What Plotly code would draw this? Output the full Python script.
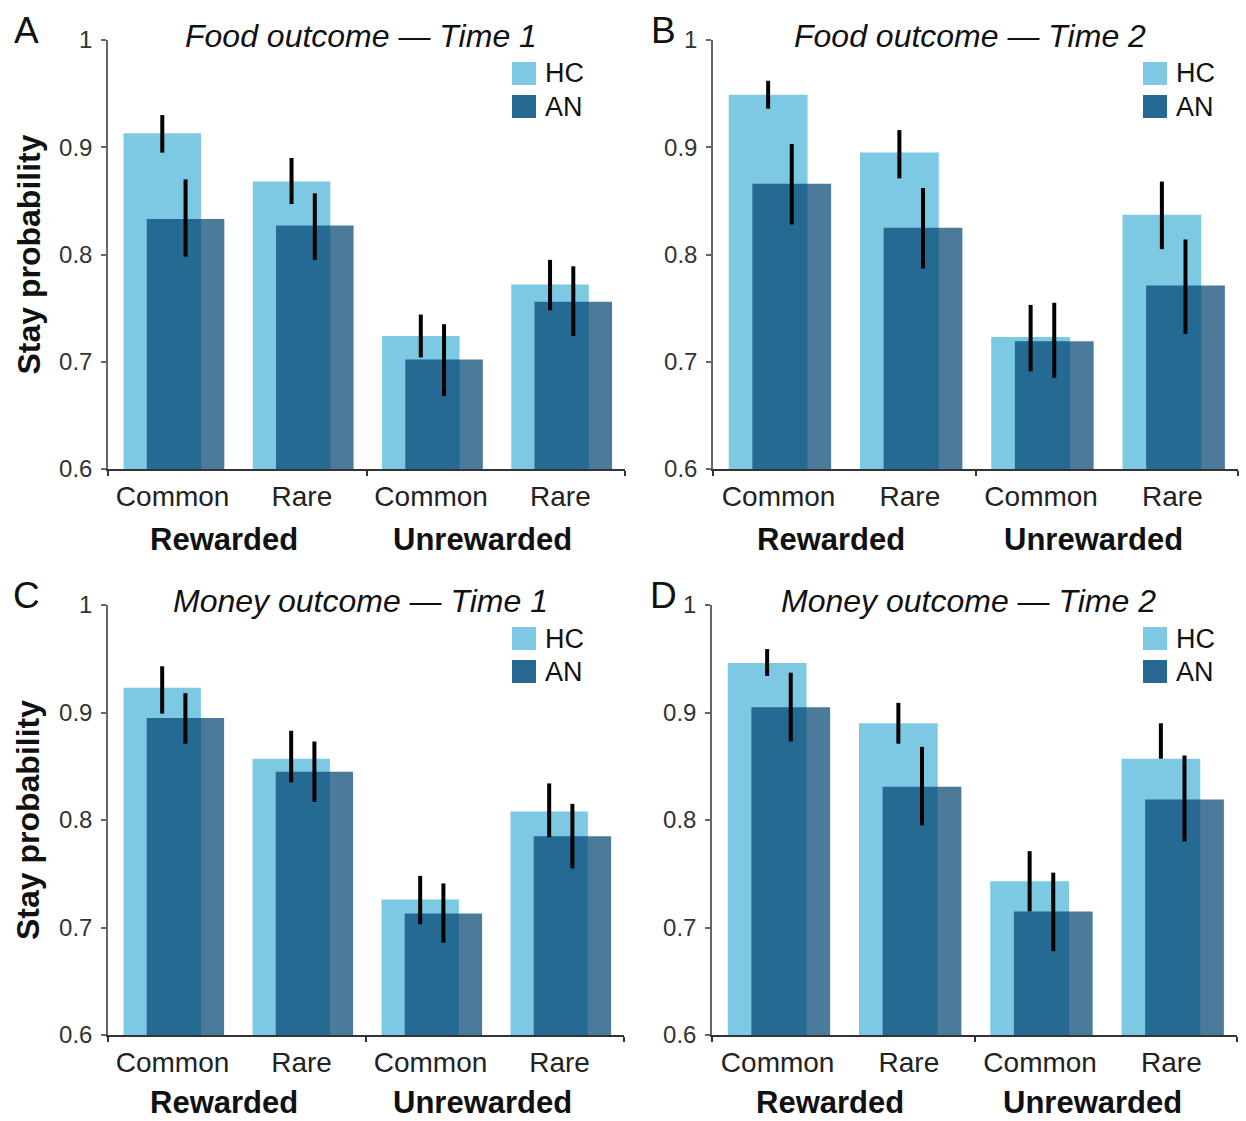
import plotly.graph_objects as go

# ---------------- data ----------------
categories = ["Common", "Rare", "Common", "Rare"]
groups = ["Rewarded", "Unrewarded"]
panel_letters = ["A", "B", "C", "D"]
panel_titles = ["Food outcome — Time 1", "Food outcome — Time 2",
                "Money outcome — Time 1", "Money outcome — Time 2"]
series_names = ["HC", "AN"]
y_ticks = [0.6, 0.7, 0.8, 0.9, 1.0]
y_ticklabels = ["0.6", "0.7", "0.8", "0.9", "1"]

hc_A = [0.913, 0.868, 0.724, 0.772]
hc_A_lo = [0.895, 0.847, 0.704, 0.748]
hc_A_hi = [0.930, 0.890, 0.744, 0.795]
an_A = [0.833, 0.827, 0.702, 0.756]
an_A_lo = [0.798, 0.795, 0.668, 0.724]
an_A_hi = [0.870, 0.857, 0.735, 0.789]

hc_B = [0.949, 0.895, 0.723, 0.837]
hc_B_lo = [0.936, 0.871, 0.691, 0.805]
hc_B_hi = [0.962, 0.916, 0.753, 0.868]
an_B = [0.866, 0.825, 0.719, 0.771]
an_B_lo = [0.828, 0.787, 0.685, 0.726]
an_B_hi = [0.903, 0.862, 0.755, 0.814]

hc_C = [0.923, 0.857, 0.726, 0.808]
hc_C_lo = [0.899, 0.835, 0.703, 0.784]
hc_C_hi = [0.943, 0.883, 0.748, 0.834]
an_C = [0.895, 0.845, 0.713, 0.785]
an_C_lo = [0.871, 0.817, 0.686, 0.755]
an_C_hi = [0.918, 0.873, 0.741, 0.815]

hc_D = [0.946, 0.890, 0.743, 0.857]
hc_D_lo = [0.934, 0.871, 0.715, 0.857]
hc_D_hi = [0.959, 0.909, 0.771, 0.890]
an_D = [0.905, 0.831, 0.715, 0.819]
an_D_lo = [0.873, 0.795, 0.678, 0.780]
an_D_hi = [0.937, 0.868, 0.751, 0.860]

panels = [
    (hc_A, hc_A_lo, hc_A_hi, an_A, an_A_lo, an_A_hi),
    (hc_B, hc_B_lo, hc_B_hi, an_B, an_B_lo, an_B_hi),
    (hc_C, hc_C_lo, hc_C_hi, an_C, an_C_lo, an_C_hi),
    (hc_D, hc_D_lo, hc_D_hi, an_D, an_D_lo, an_D_hi),
]

# ---------------- styling ----------------
W, H = 1246, 1121
HC_COLOR = "#7dc8e3"
AN_COLOR = "rgba(0,65,112,0.7)"
AN_LEGEND = "#266892"
FONT = "Liberation Sans, Arial, sans-serif"
BAR_W = 0.6
HC_OFF = -0.38
AN_OFF = -0.20

# pixel layout of each panel: (x_left, x_right, y_top, y_bottom)
boxes = [(108, 625, 40, 469), (713, 1238, 40, 469),
         (108, 624, 605, 1035), (712, 1237, 605, 1035)]
legend_x = [512, 1143, 512, 1143]
letter_x = [26, 663, 26, 663]
group_shift = [-70, -70, -67, -67]

fig = go.Figure()
xs = list(range(len(categories)))

for p, (hc, hc_lo, hc_hi, an, an_lo, an_hi) in enumerate(panels):
    sfx = "" if p == 0 else str(p + 1)
    xa, ya = "x" + sfx, "y" + sfx
    fig.add_trace(go.Bar(x=xs, y=hc, width=BAR_W, offset=HC_OFF, marker_color=HC_COLOR,
                         marker_line_width=0, name=series_names[0], showlegend=False,
                         xaxis=xa, yaxis=ya))
    ex, ey = [], []
    for i in xs:
        c = i + HC_OFF + BAR_W / 2
        ex += [c, c, None]
        ey += [hc_lo[i], hc_hi[i], None]
    fig.add_trace(go.Scatter(x=ex, y=ey, mode="lines", line=dict(color="black", width=4),
                             showlegend=False, hoverinfo="skip", xaxis=xa, yaxis=ya))
    fig.add_trace(go.Bar(x=xs, y=an, width=BAR_W, offset=AN_OFF, marker_color=AN_COLOR,
                         marker_line_width=0, name=series_names[1], showlegend=False,
                         xaxis=xa, yaxis=ya))
    ex, ey = [], []
    for i in xs:
        c = i + AN_OFF + BAR_W / 2
        ex += [c, c, None]
        ey += [an_lo[i], an_hi[i], None]
    fig.add_trace(go.Scatter(x=ex, y=ey, mode="lines", line=dict(color="black", width=4),
                             showlegend=False, hoverinfo="skip", xaxis=xa, yaxis=ya))

layout = dict(width=W, height=H, margin=dict(l=0, r=0, t=0, b=0, autoexpand=False),
              paper_bgcolor="white", plot_bgcolor="white", barmode="overlay",
              font=dict(family=FONT, color="#111"), showlegend=False)

annotations = []
shapes = []
for p, (x0, x1, y0, y1) in enumerate(boxes):
    sfx = "" if p == 0 else str(p + 1)
    layout["xaxis" + sfx] = dict(
        domain=[x0 / W, x1 / W], anchor="y" + sfx, range=[-0.5, 3.5], automargin=False,
        tickmode="array", tickvals=xs, ticktext=categories, ticks="",
        tickfont=dict(size=28, color="#222", family=FONT), ticklabelstandoff=2,
        showline=True, linecolor="#333", linewidth=1.5, showgrid=False, zeroline=False,
        minor=dict(tickmode="array", tickvals=[-0.5, 1.5, 3.5], ticks="outside",
                   ticklen=5, tickwidth=1.5, tickcolor="#333", showgrid=False),
        fixedrange=True)
    layout["yaxis" + sfx] = dict(
        domain=[1 - y1 / H, 1 - y0 / H], anchor="x" + sfx, range=[0.6, 1.0], automargin=False,
        tickmode="array", tickvals=y_ticks, ticktext=y_ticklabels,
        ticks="outside", ticklen=5, tickwidth=1.5, tickcolor="#666",
        tickfont=dict(size=24, color="#333", family=FONT), ticklabelstandoff=4,
        showline=True, linecolor="#666", linewidth=1.5, showgrid=False, zeroline=False,
        fixedrange=True)
    xd, yd = "x" + sfx + " domain", "y" + sfx + " domain"
    # title
    annotations.append(dict(text="<i>" + panel_titles[p] + "</i>", xref=xd, yref=yd,
                            x=0.5, y=1, xanchor="center", yanchor="middle", xshift=-6,
                            yshift=4, showarrow=False, font=dict(size=32, color="#111")))
    # panel letter
    annotations.append(dict(text=panel_letters[p], xref="paper", yref="paper",
                            x=letter_x[p] / W, y=1 - (y0 - 10) / H, xanchor="center",
                            yanchor="middle", showarrow=False,
                            font=dict(size=37, color="#111")))
    # group labels
    for g, gx in zip(groups, [0.4, 2.4]):
        annotations.append(dict(text="<b>" + g + "</b>", xref="x" + sfx, yref=yd,
                                x=gx, y=0, xanchor="center", yanchor="middle",
                                yshift=group_shift[p], showarrow=False,
                                font=dict(size=31, color="#111")))
    # y title for left panels
    if p in (0, 2):
        annotations.append(dict(text="<b>Stay probability</b>", xref="paper", yref=yd,
                                x=28 / W, y=0.5, xanchor="center", yanchor="middle",
                                textangle=-90, showarrow=False,
                                font=dict(size=32, color="#111")))
    # legend
    lx = legend_x[p]
    dw = x1 - x0
    dh = y1 - y0
    for k, (nm, col) in enumerate(zip(series_names, [HC_COLOR, AN_LEGEND])):
        top = y0 + 22 + k * 33
        shapes.append(dict(type="rect", xref=xd, yref=yd,
                           x0=(lx - x0) / dw, x1=(lx + 24 - x0) / dw,
                           y0=(y1 - top) / dh, y1=(y1 - top - 23) / dh,
                           fillcolor=col, line=dict(width=0)))
        annotations.append(dict(text=nm, xref=xd, yref=yd, x=(lx + 31 - x0) / dw,
                                y=(y1 - top - 11.5) / dh, xanchor="left", yanchor="middle",
                                showarrow=False, font=dict(size=27, color="#111")))

layout["annotations"] = annotations
layout["shapes"] = shapes
fig.update_layout(**layout)
fig.write_html("out.html")
